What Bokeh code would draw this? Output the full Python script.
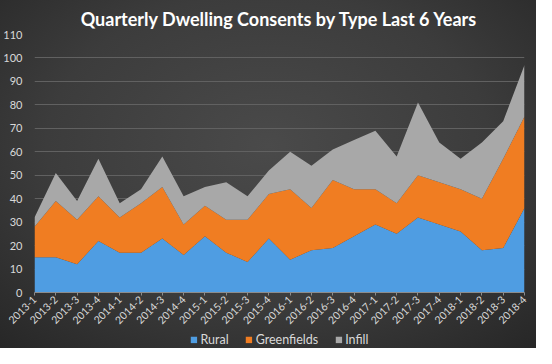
import math
from bokeh.plotting import figure
from bokeh.layouts import column
from bokeh.models import ColumnDataSource, FixedTicker, Legend, LegendItem
from bokeh.embed import file_html
from bokeh.resources import INLINE

quarters = ["2013-1", "2013-2", "2013-3", "2013-4", "2014-1", "2014-2", "2014-3", "2014-4",
            "2015-1", "2015-2", "2015-3", "2015-4", "2016-1", "2016-2", "2016-3", "2016-4",
            "2017-1", "2017-2", "2017-3", "2017-4", "2018-1", "2018-2", "2018-3", "2018-4"]
rural = [15, 15, 12, 22, 17, 17, 23, 16, 24, 17, 13, 23, 14, 18, 19, 24, 29, 25, 32, 29, 26, 18, 19, 36]
greenfields = [13, 24, 19, 19, 15, 21, 22, 13, 13, 14, 18, 19, 30, 18, 29, 20, 15, 13, 18, 18, 18, 22, 38, 39]
infill = [4, 12, 8, 16, 6, 6, 13, 12, 8, 16, 10, 10, 16, 18, 13, 21, 25, 20, 31, 17, 13, 24, 16, 22]
series = ["Rural", "Greenfields", "Infill"]
colors = ["#4f9de2", "#f07d22", "#a8a8a8"]
y_ticks = list(range(0, 111, 10))

FONT = "Lato"
TXT = "#d9d9d9"
GRADIENT = "radial-gradient(ellipse 75% 80% at 50% 42%, #4a4a4a 0%, #3c3c3c 55%, #262626 100%)"

src = ColumnDataSource(dict(x=list(range(len(quarters))), Rural=rural, Greenfields=greenfields, Infill=infill))

p = figure(width=536, height=330, output_backend="svg", toolbar_location=None,
           x_range=(0, len(quarters) - 1), y_range=(0, 110),
           min_border_left=25, min_border_right=12, min_border_top=34, min_border_bottom=0)
p.background_fill_alpha = 0
p.border_fill_alpha = 0
p.outline_line_color = None

p.title.text = "Quarterly Dwelling Consents by Type Last 6 Years"
p.title.align = "center"
p.title.text_color = "white"
p.title.text_font = FONT
p.title.text_font_size = "18px"
p.title.text_font_style = "bold"

p.varea_stack(series, x="x", source=src, color=colors)

p.xaxis.ticker = FixedTicker(ticks=list(range(len(quarters))))
p.xaxis.major_label_overrides = {i: q for i, q in enumerate(quarters)}
p.xaxis.major_label_orientation = math.pi / 4
p.xaxis.major_label_text_font = FONT
p.xaxis.major_label_text_font_size = "10.5px"
p.xaxis.major_label_text_color = TXT
p.xaxis.major_label_standoff = 2
p.xaxis.axis_line_color = "#8c8c8c"
p.xaxis.major_tick_line_color = "#8c8c8c"
p.xaxis.major_tick_in = 0
p.xaxis.major_tick_out = 3
p.xaxis.minor_tick_line_color = None

p.yaxis.ticker = FixedTicker(ticks=y_ticks)
p.yaxis.major_label_text_font = FONT
p.yaxis.major_label_text_font_size = "11px"
p.yaxis.major_label_text_color = TXT
p.yaxis.axis_line_color = None
p.yaxis.major_tick_line_color = None
p.yaxis.minor_tick_line_color = None
p.yaxis.major_label_standoff = 6

p.xgrid.grid_line_color = None
p.ygrid.ticker = FixedTicker(ticks=y_ticks)
p.ygrid.grid_line_color = "#616161"
p.ygrid.grid_line_width = 1

# legend strip: same stacked series, kept out of its (empty) view, only the legend shows
lg = figure(width=536, height=18, output_backend="svg", toolbar_location=None,
            x_range=(0, len(quarters) - 1), y_range=(1000, 1001), min_border=0)
lg.background_fill_alpha = 0
lg.border_fill_alpha = 0
lg.outline_line_color = None
lg.axis.visible = False
lg.grid.visible = False
lrs = lg.varea_stack(series, x="x", source=src, color=colors)
legend = Legend(items=[LegendItem(label=s, renderers=[r]) for s, r in zip(series, lrs)],
                orientation="horizontal", location="center",
                background_fill_alpha=0, border_line_color=None,
                label_text_color=TXT, label_text_font=FONT, label_text_font_size="12.5px",
                glyph_width=8, glyph_height=8, spacing=16, padding=0, margin=0,
                label_standoff=3)
lg.add_layout(legend, "center")

layout = column(p, lg, spacing=0, width=536, height=348,
                styles={"background": GRADIENT})
open("out.html", "w").write(file_html(layout, INLINE))
